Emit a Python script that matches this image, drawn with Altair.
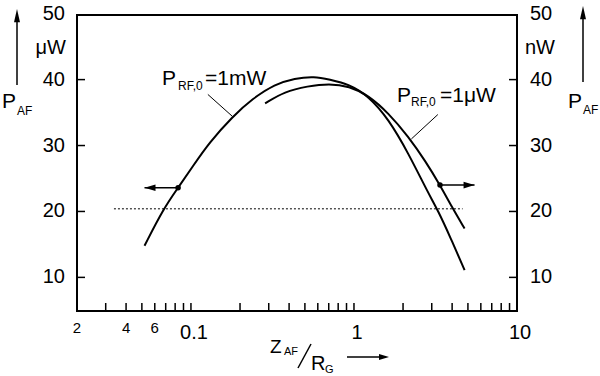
import altair as alt
import pandas as pd

FONT = "Liberation Sans"

# ---- data ----
# P_RF,0 = 1 mW  (left axis, µW)
mw_x = [0.0519, 0.0677, 0.0834, 0.103, 0.129, 0.180, 0.238, 0.327, 0.433, 0.572,
        0.706, 0.933, 1.23, 1.63, 2.15, 2.85, 3.27, 3.93, 4.77]
mw_y = [14.8, 20.4, 23.6, 26.9, 30.4, 34.4, 37.1, 39.3, 40.2, 40.5,
        40.0, 39.3, 37.5, 34.0, 28.9, 22.8, 20.2, 15.9, 11.1]
# P_RF,0 = 1 µW  (right axis, nW)
uw_x = [0.285, 0.376, 0.519, 0.706, 0.933, 1.23, 1.63, 2.15, 2.75, 3.37, 3.98, 4.77]
uw_y = [36.4, 38.2, 39.0, 39.4, 39.0, 37.6, 34.9, 31.4, 27.6, 24.0, 20.7, 17.4]

# dotted reference line
ref_x = [0.0337, 4.64]
ref_y = [20.4, 20.4]

# axis-pointer markers on the curves
marker_x = [0.0834, 3.37]
marker_y = [23.6, 24.0]
marker_end_x = [0.0519, 5.49]

# label leader lines
lead_x1 = [0.127, 3.27]
lead_y1 = [37.75, 34.7]
lead_x2 = [0.180, 2.25]
lead_y2 = [34.4, 31.0]

# axis ticks and labels
y_tick_vals = [10, 20, 30, 40]
y_label_vals = [10, 20, 30, 40, 50]
x_tick_vals = [0.03, 0.04, 0.05, 0.06, 0.07, 0.08, 0.09, 0.1,
               0.2, 0.3, 0.4, 0.5, 0.6, 0.7, 0.8, 0.9, 1,
               2, 3, 4, 5, 6, 7, 8, 9]
x_small_vals = [0.02, 0.04, 0.06]
x_small_text = ["2", "4", "6"]
x_big_vals = [0.1, 1, 10]
x_big_text = ["0.1", "1", "10"]

# ---- layout ----
W, H = 440, 296
L, T = 77, 15

xs = alt.Scale(type="log", domain=[0.02, 10], nice=False)
ys = alt.Scale(domain=[4.9, 49.8], nice=False, zero=False)


def X(f="x"):
    return alt.X(f + ":Q", scale=xs, axis=None)


def Y(f="y"):
    return alt.Y(f + ":Q", scale=ys, axis=None)


def rx(v):
    return v - L


def ry(v):
    return v - T


EMPTY = alt.Data(values=[{}])


def txt(text, x, y, size, align="left", baseline="alphabetic"):
    return alt.Chart(EMPTY).mark_text(
        text=text, font=FONT, fontSize=size, align=align, baseline=baseline, color="black"
    ).encode(x=alt.value(rx(x)), y=alt.value(ry(y)))


def seg(x1, y1, x2, y2, w=1.5):
    return alt.Chart(EMPTY).mark_rule(color="black", strokeWidth=w).encode(
        x=alt.value(rx(x1)), y=alt.value(ry(y1)), x2=alt.value(rx(x2)), y2=alt.value(ry(y2))
    )


def head(x, y, path, size):
    return alt.Chart(EMPTY).mark_point(
        shape=path, size=size, filled=True, color="black", opacity=1, strokeWidth=0
    ).encode(x=alt.value(rx(x)), y=alt.value(ry(y)))


UP = "M0,0L-0.5,2.2L0.5,2.2Z"
RIGHT = "M0,0L-2,-0.6L-2,0.6Z"
LEFT = "M0,0L2,-0.6L2,0.6Z"

curves_df = pd.concat([
    pd.DataFrame({"x": mw_x, "y": mw_y, "s": "1mW"}),
    pd.DataFrame({"x": uw_x, "y": uw_y, "s": "1uW"}),
])
curves = alt.Chart(curves_df).mark_line(
    color="black", strokeWidth=2, interpolate="basis"
).encode(x=X(), y=Y(), detail="s:N")

ref = alt.Chart(pd.DataFrame({"x": ref_x, "y": ref_y})).mark_line(
    color="black", strokeWidth=1, strokeDash=[2, 2]
).encode(x=X(), y=Y())

mk_df = pd.DataFrame({"x": marker_x, "y": marker_y, "x2": marker_end_x})
mk_rule = alt.Chart(mk_df).mark_rule(color="black", strokeWidth=1.5).encode(
    x=X(), x2="x2:Q", y=Y())
mk_dot = alt.Chart(mk_df).mark_circle(color="black", size=30, opacity=1).encode(x=X(), y=Y())
mk_head_l = alt.Chart(mk_df.iloc[[0]]).mark_point(
    shape=LEFT, size=121, filled=True, color="black", opacity=1, strokeWidth=0
).encode(x=X("x2"), y=Y())
mk_head_r = alt.Chart(mk_df.iloc[[1]]).mark_point(
    shape=RIGHT, size=121, filled=True, color="black", opacity=1, strokeWidth=0
).encode(x=X("x2"), y=Y())

lead = alt.Chart(pd.DataFrame({"x": lead_x1, "y": lead_y1, "x2": lead_x2, "y2": lead_y2})).mark_rule(
    color="black", strokeWidth=1
).encode(x=X(), y=Y(), x2="x2:Q", y2="y2:Q")

# ticks (pointing inward)
xt = alt.Chart(pd.DataFrame({"x": x_tick_vals})).mark_rule(color="black", strokeWidth=1.5).encode(
    x=X(), y=alt.value(H), y2=alt.value(H - 8))
yt_l = alt.Chart(pd.DataFrame({"y": y_tick_vals})).mark_rule(color="black", strokeWidth=1.5).encode(
    y=Y(), x=alt.value(0), x2=alt.value(8))
yt_r = alt.Chart(pd.DataFrame({"y": y_tick_vals})).mark_rule(color="black", strokeWidth=1.5).encode(
    y=Y(), x=alt.value(W), x2=alt.value(W - 8))

# tick labels
yl_df = pd.DataFrame({"y": y_label_vals, "t": [str(v) for v in y_label_vals]})
yl_l = alt.Chart(yl_df).mark_text(font=FONT, fontSize=20, align="right", baseline="middle",
                                  color="black").encode(y=Y(), x=alt.value(-12), text="t:N")
yl_r = alt.Chart(yl_df).mark_text(font=FONT, fontSize=20, align="left", baseline="middle",
                                  color="black").encode(y=Y(), x=alt.value(W + 13), text="t:N")
xl_s = alt.Chart(pd.DataFrame({"x": x_small_vals, "t": x_small_text})).mark_text(
    font=FONT, fontSize=15, align="center", baseline="alphabetic", color="black"
).encode(x=X(), y=alt.value(H + 22), text="t:N")
xl_b = alt.Chart(pd.DataFrame({"x": x_big_vals, "t": x_big_text})).mark_text(
    font=FONT, fontSize=20, align="center", baseline="alphabetic", color="black", dx=3
).encode(x=X(), y=alt.value(H + 28), text="t:N")

annots = [
    # unit labels
    txt("\u03bcW", 66, 54, 20, align="right"),
    txt("nW", 525, 54, 20),
    # left axis title with arrow
    seg(17, 85, 17, 20),
    head(17, 9, UP, 144),
    txt("P", 2, 108, 21),
    txt("AF", 17, 115, 12),
    # right axis title with arrow
    seg(583, 82, 583, 17),
    head(583, 6, UP, 144),
    txt("P", 568, 108, 21),
    txt("AF", 583, 114, 12),
    # curve labels
    txt("P", 162, 85, 21),
    txt("RF,0", 178, 90, 12),
    txt("=1mW", 205, 85, 21),
    txt("P", 397, 102, 21),
    txt("RF,0", 411, 106, 12),
    txt("=1\u03bcW", 440, 102, 21),
    # x axis title
    txt("Z", 270, 353, 19),
    txt("AF", 284, 355, 11),
    seg(298, 368, 311, 344, 1.5),
    txt("R", 311, 370, 20),
    txt("G", 325, 373, 11),
    seg(347, 357, 380, 357, 1.5),
    head(389, 357, RIGHT, 100),
]

chart = alt.layer(
    ref, curves, lead, mk_rule, mk_dot, mk_head_l, mk_head_r,
    xt, yt_l, yt_r, yl_l, yl_r, xl_s, xl_b, *annots
).properties(
    width=W, height=H,
    autosize=alt.AutoSizeParams(type="none"),
    padding={"left": L, "top": T, "right": 600 - L - W, "bottom": 376 - T - H},
    background="white",
).configure_view(stroke="black", strokeWidth=2)

chart.save("out.html", embed_options={"renderer": "svg", "actions": False})
